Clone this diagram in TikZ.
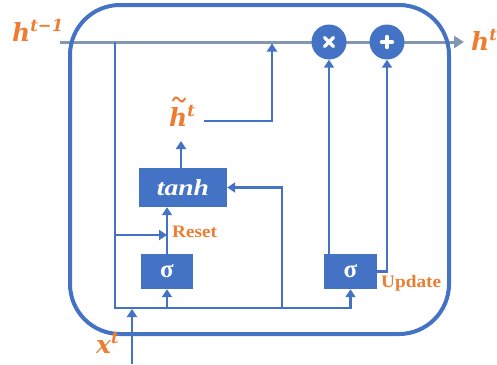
\documentclass[tikz,border=0pt]{standalone}
\usepackage{graphicx}
\usepackage{fontspec}
\setmainfont{Liberation Serif}
\newfontfamily\lblfont{DejaVu Serif}
\usetikzlibrary{arrows.meta}
\definecolor{gblue}{HTML}{4472C4}
\definecolor{gorange}{HTML}{ED7D31}
\definecolor{ggray}{HTML}{8497B0}
\newcommand{\varlbl}[2]{{\lblfont\bfseries\itshape\fontsize{25}{25}\selectfont #1\raisebox{9.5pt}{\fontsize{16.5}{16.5}\selectfont #2}}}
\begin{document}
\begin{tikzpicture}[x=1pt,y=-1pt,
  wire/.style={draw=gblue, line width=2.6pt},
  arr/.style={-{Triangle[width=10pt,length=8pt]}},
  gatebox/.style={fill=gblue, draw=none, text=white, inner sep=0pt},
  opcirc/.style={circle, fill=gblue, draw=none, minimum size=35pt, inner sep=0pt},
  lbl/.style={text=gorange, inner sep=0pt, anchor=base west},
  sym/.style={white, line width=3.4pt, line cap=round}]
\useasboundingbox (0,0) rectangle (497,364);
% main gray state line
\coordinate (gstart) at (60,42);
\coordinate (gend) at (464,42);
\draw[ggray, line width=3pt, -{Triangle[width=12pt,length=10pt]}] (gstart) -- (gend);
% cell outline
\node[draw=gblue, line width=4pt, rounded corners=50pt, minimum width=379pt, minimum height=329pt, inner sep=0pt] (cell) at (259.5,169.5) {};
% gates
\node[gatebox, minimum width=52pt, minimum height=35pt] (rsig) at (167,271.5) {\fontsize{25}{25}\selectfont\bfseries\raisebox{-2pt}{σ}};
\node[gatebox, minimum width=53pt, minimum height=35pt] (usig) at (350.5,271.5) {\fontsize{25}{25}\selectfont\bfseries\raisebox{-2pt}{σ}};
\node[gatebox, minimum width=88pt, minimum height=39pt] (tanh) at (183,187.5) {\fontsize{23}{23}\selectfont\bfseries\itshape\scalebox{1.2}[1]{tanh}};
\node[opcirc] (mul) at (329,42) {};
\node[opcirc] (add) at (387,42) {};
\draw[sym] ([shift={(-4.5,-4.5)}]mul.center) -- ([shift={(4.5,4.5)}]mul.center);
\draw[sym] ([shift={(-4.5,4.5)}]mul.center) -- ([shift={(4.5,-4.5)}]mul.center);
\draw[sym] ([shift={(-5.5,0)}]add.center) -- ([shift={(5.5,0)}]add.center);
\draw[sym] ([shift={(0,-5.5)}]add.center) -- ([shift={(0,5.5)}]add.center);
% labels
\node[lbl] (hprev) at (12,41) {\varlbl{h}{t−1}};
\node[lbl] (hnext) at (471,50) {\varlbl{h}{t}};
\node[lbl] (htil) at (169,126) {\varlbl{h}{t}};
\draw[gorange, line width=2pt, line cap=round]
  ([shift={(4,-25.5)}]htil.base west) sin ([shift={(7,-28.5)}]htil.base west)
  cos ([shift={(10,-26.5)}]htil.base west) sin ([shift={(13,-24.5)}]htil.base west)
  cos ([shift={(16,-27.5)}]htil.base west);
\node[lbl] (xt) at (96,353) {\varlbl{x}{t}};
\node[lbl] (reset) at (172,237) {\fontsize{17.5}{17.5}\selectfont\bfseries\scalebox{1.1}[1]{Reset}};
\node[lbl] (update) at (381,287) {\fontsize{17.5}{17.5}\selectfont\bfseries\scalebox{1.1}[1]{Update}};
% wires
\coordinate (tapL) at (115,42);
\coordinate (botL) at (115,308);
\coordinate (xin) at (132,364);
\coordinate (xjoin) at (132,309);
\coordinate (rtap) at (115,235);
\coordinate (hta) at (181,141);
\coordinate (ht1) at (204,121);
\coordinate (hjoin) at (272,43.5);
\coordinate (rb) at (282,308);
\draw[wire, arr] (tapL) -- (botL) -| (usig.south);
\draw[wire, arr] (xin) -- (xjoin);
\draw[wire, arr] (rsig.south |- botL) -- (rsig.south);
\draw[wire, arr] (rsig.north) -- (rsig.north |- tanh.south);
\draw[wire, arr] (rtap) -- (rtap -| rsig.north);
\draw[wire, arr] (tanh.north -| hta) -- (hta);
\draw[wire, arr] (ht1) -| (hjoin);
\draw[wire, arr] (rb) |- (tanh.east);
\draw[wire, arr] (usig.north -| mul.south) -- (mul.south);
\draw[wire, arr] (usig.east) -| (add.south);
\end{tikzpicture}
\end{document}
